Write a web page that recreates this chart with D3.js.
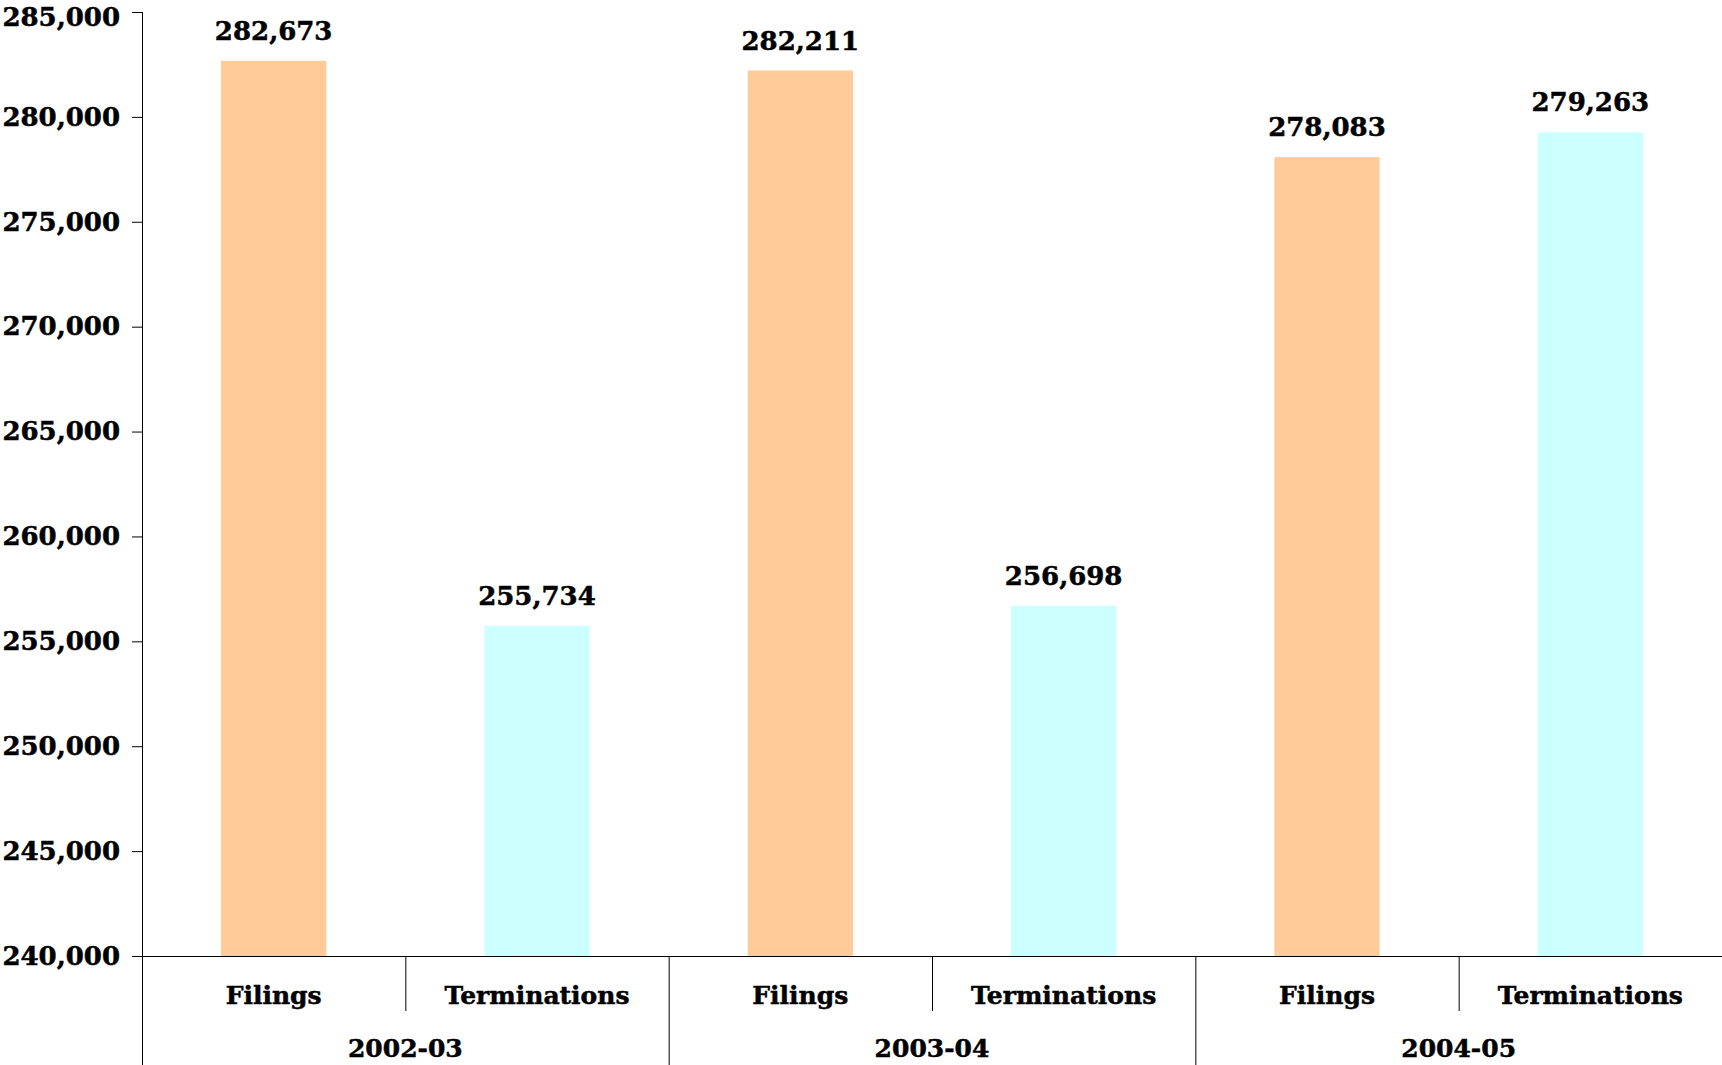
<!DOCTYPE html>
<html>
<head>
<meta charset="utf-8">
<script src="https://cdn.jsdelivr.net/npm/d3@7"></script>
<style>
  body { margin: 0; background: #fff; }
  text { font-family: "DejaVu Serif", serif; font-weight: bold; fill: #000; stroke: #000; stroke-width: 0.5px; }
</style>
</head>
<body>
<div id="chart"></div>
<script>
// chart data
const years = ["2002-03", "2003-04", "2004-05"];
const seriesNames = ["Filings", "Terminations"];
const filings = [282673, 282211, 278083];
const terminations = [255734, 256698, 279263];
const yTickValues = [240000, 245000, 250000, 255000, 260000, 265000, 270000, 275000, 280000, 285000];
const seriesColors = ["#FFCC99", "#CCFFFF"];

const W = 1722, H = 1065;
const margin = { top: 12, right: 0, bottom: 109, left: 142 };
const plotBottom = H - margin.bottom;

const svg = d3.select("#chart")
  .append("svg")
    .attr("width", W)
    .attr("height", H);

const rows = years.map((yr, i) => ({
  year: yr,
  values: [
    { series: "Filings", value: filings[i] },
    { series: "Terminations", value: terminations[i] }
  ]
}));

const x0 = d3.scaleBand()
  .domain(years)
  .range([margin.left, W]);

const x1 = d3.scaleBand()
  .domain(seriesNames)
  .range([0, x0.bandwidth()])
  .paddingInner(0.6)
  .paddingOuter(0.3);

const y = d3.scaleLinear()
  .domain([240000, 285000])
  .range([plotBottom, margin.top]);

const color = d3.scaleOrdinal().domain(seriesNames).range(seriesColors);
const fmt = d3.format(",");

// bars
const groups = svg.selectAll(".grp")
  .data(rows)
  .join("g")
    .attr("class", "grp")
    .attr("transform", d => `translate(${x0(d.year)},0)`);

groups.selectAll("rect")
  .data(d => d.values)
  .join("rect")
    .attr("x", d => x1(d.series))
    .attr("y", d => y(d.value))
    .attr("width", x1.bandwidth())
    .attr("height", d => plotBottom - y(d.value))
    .attr("fill", d => color(d.series));

// value labels
groups.selectAll(".val")
  .data(d => d.values)
  .join("text")
    .attr("class", "val")
    .attr("x", d => x1(d.series) + x1.bandwidth() / 2)
    .attr("y", d => y(d.value) - 21)
    .attr("text-anchor", "middle")
    .style("font-size", "26px")
    .text(d => fmt(d.value));

// y axis
const yAxis = svg.append("g")
  .attr("transform", `translate(${margin.left},0)`)
  .call(d3.axisLeft(y).tickValues(yTickValues).tickFormat(fmt).tickSize(10).tickPadding(12));
yAxis.select(".domain").remove();
yAxis.selectAll("line").attr("stroke", "#000");
yAxis.selectAll("text")
  .attr("fill", "#000")
  .style("font-size", "26px")
  .style("font-family", "DejaVu Serif, serif")
  .style("font-weight", "bold");
// keep the top label inside the picture
yAxis.selectAll(".tick").filter(d => d === 285000).select("text").attr("dy", "0.5em");

// y axis line runs to the bottom of the picture
svg.append("line")
  .attr("x1", margin.left + 0.5).attr("x2", margin.left + 0.5)
  .attr("y1", margin.top).attr("y2", H)
  .attr("stroke", "#000");

// x axis line
svg.append("line")
  .attr("x1", margin.left - 10).attr("x2", W)
  .attr("y1", plotBottom + 0.5).attr("y2", plotBottom + 0.5)
  .attr("stroke", "#000");

// series dividers (short) and year dividers (long)
groups.append("line")
  .attr("x1", x0.bandwidth() / 2 + 0.5).attr("x2", x0.bandwidth() / 2 + 0.5)
  .attr("y1", plotBottom).attr("y2", plotBottom + 55)
  .attr("stroke", "#000");

groups.filter((d, i) => i > 0).append("line")
  .attr("x1", 0.5).attr("x2", 0.5)
  .attr("y1", plotBottom).attr("y2", H)
  .attr("stroke", "#000");

// series labels
groups.selectAll(".cat")
  .data(d => d.values)
  .join("text")
    .attr("class", "cat")
    .attr("x", d => x1(d.series) + x1.bandwidth() / 2)
    .attr("y", plotBottom + 48)
    .attr("text-anchor", "middle")
    .style("font-size", "25px")
    .text(d => d.series);

// year labels
groups.append("text")
  .attr("x", x0.bandwidth() / 2)
  .attr("y", plotBottom + 101)
  .attr("text-anchor", "middle")
  .style("font-size", "25px")
  .text(d => d.year);
</script>
</body>
</html>
